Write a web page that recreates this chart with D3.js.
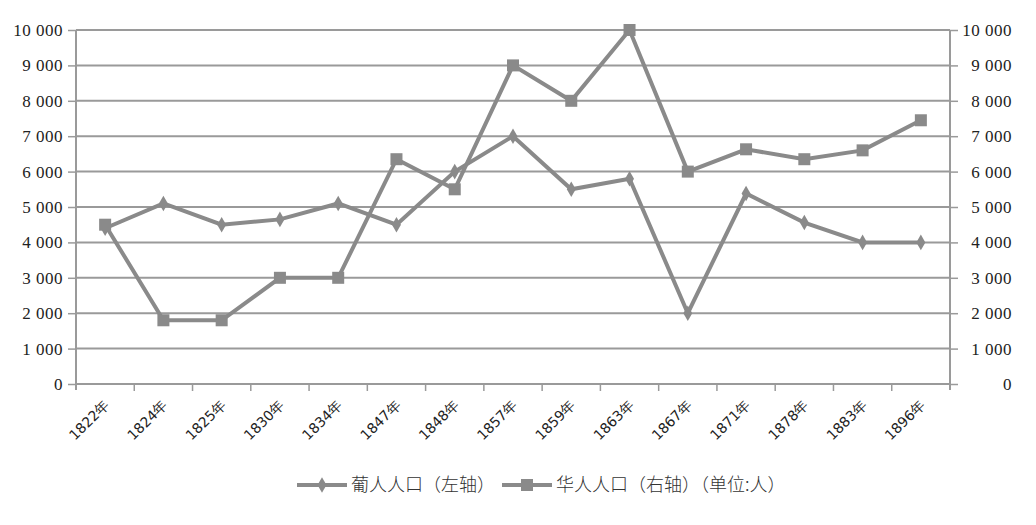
<!DOCTYPE html>
<html><head><meta charset="utf-8">
<script src="https://cdn.jsdelivr.net/npm/d3@7"></script>
<style>body{margin:0;background:#fff}
.num{font-family:"Times New Roman","Liberation Serif","DejaVu Serif",serif !important;font-size:17px}
</style>
</head><body>
<svg id="c" width="1036" height="525"></svg>
<script>
const years = ["1822年","1824年","1825年","1830年","1834年","1847年","1848年","1857年","1859年","1863年","1867年","1871年","1878年","1883年","1896年"];
const portuguese = [4400,5100,4500,4650,5100,4500,6000,7000,5500,5800,2000,5380,4560,4000,4000];
const chinese = [4500,1800,1800,3000,3000,6350,5500,9000,8000,10000,6000,6630,6350,6600,7450];
const yTicks = [0,1000,2000,3000,4000,5000,6000,7000,8000,9000,10000];
const legendLabels = ["葡人人口（左轴）","华人人口（右轴）（单位:人）"];

const svg = d3.select("#c");
const L=76,R=950,T=30,B=384;
const x = d3.scaleBand().domain(years).range([L,R]);
const yL = d3.scaleLinear().domain([0,10000]).range([B,T]);
const yR = d3.scaleLinear().domain([0,10000]).range([B,T]);
const fmt = v => v>=1000 ? d3.format(",")(v).replace(",", " ") : String(v);
const grey="#8a8a8a", axisC="#9a9a9a";

// gridlines
svg.append("g").selectAll("line").data(yTicks.filter(d=>d>0)).join("line")
  .attr("x1",L).attr("x2",R).attr("y1",d=>yL(d)).attr("y2",d=>yL(d))
  .attr("stroke",axisC).attr("stroke-width",2);

// left axis
const gl = svg.append("g").attr("transform",`translate(${L},0)`)
  .call(d3.axisLeft(yL).tickValues(yTicks).tickFormat(fmt).tickSize(8).tickPadding(5));
// right axis
const gr = svg.append("g").attr("transform",`translate(${R},0)`)
  .call(d3.axisRight(yR).tickValues(yTicks).tickFormat(fmt).tickSize(8).tickPadding(8));
[gl,gr].forEach(g=>{
  g.attr("font-family",null).attr("font-size",null);
  g.select(".domain").attr("stroke",axisC).attr("stroke-width",2).attr("d",`M0,${T}V${B+6}`);
  g.selectAll(".tick line").attr("stroke",axisC).attr("stroke-width",1.5);
  g.selectAll("text").attr("class","num").attr("letter-spacing",0.5).attr("fill","#222");
});
gr.selectAll("text").attr("text-anchor","end").attr("x",62);

// x axis
const gx = svg.append("g").attr("transform",`translate(0,${B})`);
gx.append("line").attr("x1",L).attr("x2",R).attr("stroke",axisC).attr("stroke-width",2);
gx.selectAll("line.t").data(years.slice(1)).join("line").attr("class","t")
  .attr("x1",d=>x(d)).attr("x2",d=>x(d)).attr("y1",0).attr("y2",7)
  .attr("stroke",axisC).attr("stroke-width",1.5);
gx.selectAll("text").data(years).join("text")
  .attr("transform",d=>`translate(${x(d)+x.bandwidth()/2+5},${22}) rotate(-45)`)
  .attr("text-anchor","end").style("font-family","'DejaVu Sans', sans-serif").style("font-size","14px")
  .attr("fill","#222").text(d=>d);

// lines
const lineL = d3.line().x((d,i)=>x(years[i])+x.bandwidth()/2).y(d=>yL(d));
const lineR = d3.line().x((d,i)=>x(years[i])+x.bandwidth()/2).y(d=>yR(d));
svg.append("path").attr("d",lineL(portuguese)).attr("fill","none").attr("stroke",grey).attr("stroke-width",4);
svg.append("path").attr("d",lineR(chinese)).attr("fill","none").attr("stroke",grey).attr("stroke-width",4);
const diamond = d3.symbol().type(d3.symbolDiamond).size(70);
svg.append("g").selectAll("path").data(portuguese).join("path")
  .attr("d",diamond).attr("fill",grey)
  .attr("transform",(d,i)=>`translate(${x(years[i])+x.bandwidth()/2},${yL(d)})`);
svg.append("g").selectAll("rect").data(chinese).join("rect")
  .attr("x",(d,i)=>x(years[i])+x.bandwidth()/2-6).attr("y",d=>yR(d)-6)
  .attr("width",12).attr("height",12).attr("fill",grey);

// legend
const lg = svg.append("g");
const ly=485;
lg.append("line").attr("x1",297).attr("x2",347).attr("y1",ly).attr("y2",ly).attr("stroke",grey).attr("stroke-width",4);
lg.append("path").attr("d",diamond).attr("fill",grey).attr("transform",`translate(322,${ly})`);
lg.append("text").attr("x",351).attr("y",ly+6).text(legendLabels[0]);
lg.append("line").attr("x1",502).attr("x2",552).attr("y1",ly).attr("y2",ly).attr("stroke",grey).attr("stroke-width",4);
lg.append("rect").attr("x",521).attr("y",ly-6).attr("width",12).attr("height",12).attr("fill",grey);
lg.append("text").attr("x",556).attr("y",ly+6).text(legendLabels[1]);
lg.selectAll("text").style("font-family","'Noto Sans CJK SC', sans-serif").style("font-size","18px").attr("font-weight",300).attr("fill","#333");
</script>
</body></html>
